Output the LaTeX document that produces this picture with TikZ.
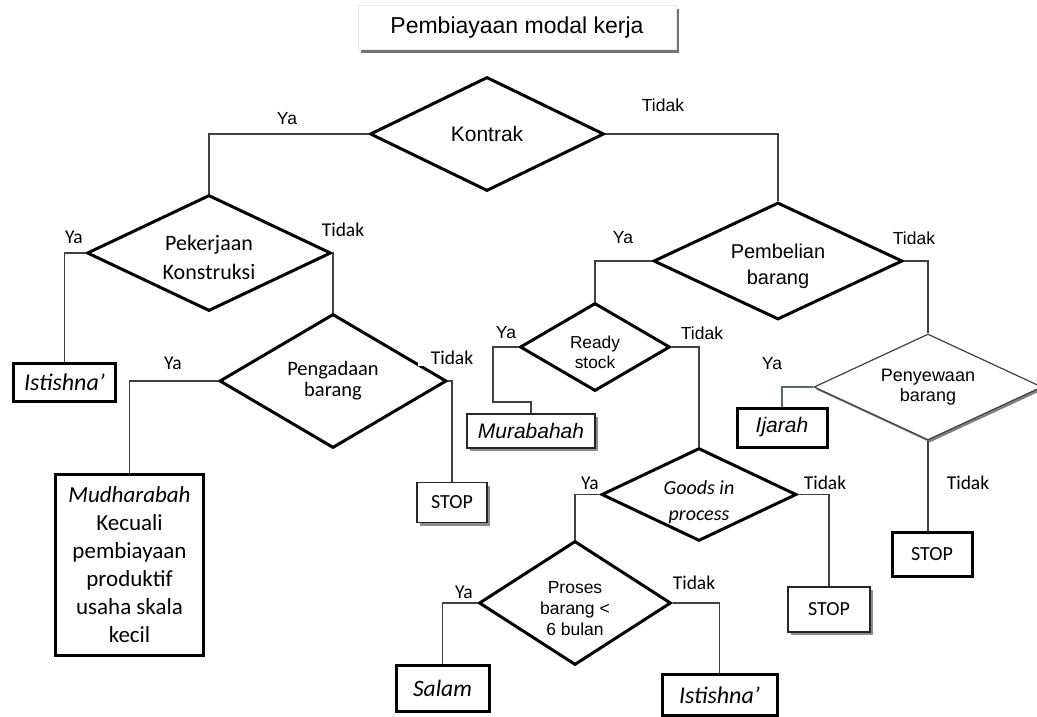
\documentclass[tikz,border=0pt]{standalone}
\usepackage{fontspec}
\setmainfont{Liberation Sans}
\newfontfamily\califont{Carlito}
\usetikzlibrary{shapes.geometric,shadows}
\tikzset{
  dia/.style={shape=diamond, draw=black, line width=3pt, inner sep=0pt, align=center, fill=white},
  thickbox/.style={draw=black, line width=3pt, inner sep=0pt, align=center, fill=white},
  thinbox/.style={draw=black!85, line width=1.3pt, inner sep=0pt, align=center, fill=white,
    drop shadow={shadow xshift=3pt, shadow yshift=-3pt, fill=black!45, opacity=1}},
  conn/.style={draw=black!75, line width=1.2pt},
  alab/.style={font=\fontsize{17.5}{20}\selectfont, inner sep=1pt},
  clab/.style={font=\califont\fontsize{19.5}{22}\selectfont, inner sep=1pt},
}
\newcommand{\dn}[1]{\rule{0pt}{#1pt}}
\begin{document}
\begin{tikzpicture}[x=1pt,y=-1pt]
\useasboundingbox[fill=white] (0,0) rectangle (1037,717);

% title
\node[draw=black!8, line width=1pt, fill=white, minimum width=318pt, minimum height=44pt,
  drop shadow={shadow xshift=3pt, shadow yshift=-3pt, fill=black!55, opacity=1},
  font=\fontsize{23}{27}\selectfont] (title) at (517,28) {Pembiayaan modal kerja};

% decisions
\node[dia, minimum width=234pt, minimum height=114pt, shape aspect=2.05,
  font=\fontsize{21}{24}\selectfont] (kon) at (487,134) {Kontrak};
\node[dia, minimum width=244pt, minimum height=116pt, shape aspect=2.1,
  font=\califont\fontsize{22}{29}\selectfont] (pk) at (209,253) {\dn{25}Pekerjaan\\Konstruksi};
\node[dia, minimum width=227pt, minimum height=134pt, shape aspect=1.7,
  font=\califont\fontsize{20.5}{21}\selectfont] (pg) at (333,381) {Pengadaan\\barang};
\node[dia, minimum width=249pt, minimum height=117pt, shape aspect=2.1,
  font=\fontsize{20}{26}\selectfont] (pb) at (778,261) {\dn{25}Pembelian\\barang};
\node[dia, minimum width=150pt, minimum height=88pt, shape aspect=1.7,
  font=\fontsize{17.3}{20}\selectfont] (rs) at (595,347) {\dn{23}Ready\\stock};
\node[dia, minimum width=192pt, minimum height=91pt, shape aspect=2.1,
  font=\califont\itshape\fontsize{20}{26}\selectfont] (gp) at (699,494.5) {\dn{30}Goods in\\process};
\node[dia, minimum width=192pt, minimum height=124pt, shape aspect=1.55,
  font=\fontsize{17.5}{21}\selectfont] (pr) at (575,603) {\dn{23}Proses\\barang <\\6 bulan};
\node[dia, line width=1.2pt, draw=black!75, minimum width=228pt, minimum height=106pt, shape aspect=2.15,
  drop shadow={shadow xshift=2pt, shadow yshift=-2.5pt, fill=black!50, opacity=1},
  font=\fontsize{18}{20}\selectfont] (py) at (928,387) {Penyewaan\\barang};

% results
\node[thickbox, minimum width=102pt, minimum height=38pt,
  font=\califont\itshape\fontsize{24}{28}\selectfont] (ist1) at (64.5,382.5) {Istishna’};
\node[thickbox, minimum width=148pt, minimum height=181pt,
  font=\califont\fontsize{23}{28}\selectfont] (mud) at (129.5,565)
  {\textit{Mudharabah}\\Kecuali\\pembiayaan\\produktif\\usaha skala\\kecil};
\node[thinbox, minimum width=70pt, minimum height=40pt,
  font=\califont\fontsize{20}{24}\selectfont] (stop1) at (452,502.5) {STOP};
\node[thinbox, minimum width=128pt, minimum height=34pt,
  font=\itshape\fontsize{21}{24}\selectfont] (mur) at (531,431) {Murabahah};
\node[thickbox, minimum width=90pt, minimum height=39pt,
  font=\itshape\fontsize{21}{24}\selectfont] (ijarah) at (782,427.5) {Ijarah};
\node[thinbox, minimum width=82pt, minimum height=45pt,
  font=\califont\fontsize{20}{24}\selectfont] (stop2) at (829,609.5) {STOP};
\node[thickbox, minimum width=80pt, minimum height=44pt,
  font=\califont\fontsize{20}{24}\selectfont] (stop3) at (932,554) {STOP};
\node[thickbox, minimum width=93pt, minimum height=46pt,
  font=\califont\itshape\fontsize{23.5}{28}\selectfont] (salam) at (442.5,688.5) {Salam};
\node[thickbox, minimum width=115pt, minimum height=41pt,
  font=\califont\itshape\fontsize{24}{28}\selectfont] (ist2) at (719.5,695) {Istishna’};

% connectors
\draw[conn] (kon.west) -| (pk.north);
\draw[conn] (kon.east) -| (pb.north);
\draw[conn] (pk.west) -| (ist1.north);
\draw[conn] (pk.east) -| (pg.north);
\draw[conn] (pg.west) -| (mud.north);
\draw[conn] (pg.east) -| (stop1.north);
\draw[conn] (pb.west) -| (rs.north);
\draw[conn] (pb.east) -| (py.north);
\coordinate (rsb) at (493,402);
\draw[conn] (rs.west) -| (rsb) -| (mur.north);
\draw[conn] (rs.east) -| (gp.north);
\draw[conn] (gp.west) -| (pr.north);
\draw[conn] (gp.east) -| (stop2.north);
\draw[conn] (pr.west) -| (salam.north);
\draw[conn] (pr.east) -| (ist2.north);
\draw[conn, draw={rgb,255:red,80;green,110;blue,110}] (py.west) -| (ijarah.north);
\draw[conn] (py.south) -- (py.south |- stop3.north);

% labels
\node[alab] (lkony) at (287,119) {Ya};
\node[alab] (lkont) at (663,105) {Tidak};
\node[clab] (lpky) at (74,237) {Ya};
\node[clab] (lpkt) at (343,230) {Tidak};
\node[clab] (lpgy) at (173,363) {Ya};
\node[clab, fill=white, minimum width=68pt] (lpgt) at (452,358) {Tidak};
\node[alab] (lpby) at (623,238) {Ya};
\node[alab] (lpbt) at (914,238) {Tidak};
\node[alab] (lrsy) at (506,333) {Ya};
\node[alab] (lrst) at (702,333) {Tidak};
\node[alab] (lpyy) at (772,364) {Ya};
\node[clab] (lpyt) at (968,483) {Tidak};
\node[clab] (lgpy) at (590,483) {Ya};
\node[clab] (lgpt) at (825,483) {Tidak};
\node[clab] (lpry) at (464,592) {Ya};
\node[clab] (lprt) at (694,583) {Tidak};
\end{tikzpicture}
\end{document}
